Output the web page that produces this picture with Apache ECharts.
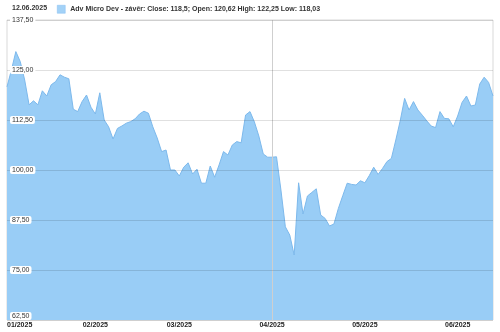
<!DOCTYPE html>
<html><head><meta charset="utf-8">
<script src="https://cdn.jsdelivr.net/npm/echarts@6/dist/echarts.min.js"></script>
<style>html,body{margin:0;padding:0;background:#fff}#c{width:500px;height:332px}</style>
</head><body><div id="c"></div>
<script>
// Trading days (day of month) per month, 2025
const janDays = [2,3,6,7,8,10,13,14,15,16,17,21,22,23,24,27,28,29,30,31];
const febDays = [3,4,5,6,7,10,11,12,13,14,18,19,20,21,24,25,26,27,28];
const marDays = [3,4,5,6,7,10,11,12,13,14,17,18,19,20,21,24,25,26,27,28,31];
const aprDays = [1,2,3,4,7,8,9,10,11,14,15,16,17,21,22,23,24,25,28,29,30];
const mayDays = [1,2,5,6,7,8,9,12,13,14,15,16,19,20,21,22,23,27,28,29,30];
const junDays = [2,3,4,5,6,9,10,11,12];

// Close values per month
const janClose = [120.8,125.0,129.6,127.1,122.5,116.3,117.3,116.3,119.8,118.5,121.3,122.1,123.8,123.2,122.8,115.2,114.6,117.1,118.75,115.7];
const febClose = [114.0,119.3,112.5,110.8,107.75,110.4,111.0,111.7,112.1,112.8,114.0,114.7,114.2,110.8,108.0,104.6,105.0,100.0,100.0];
const marClose = [98.5,100.7,101.8,99.0,100.2,96.7,96.7,101.0,98.2,101.25,104.6,103.75,106.25,107.1,106.8,113.75,114.6,112.0,108.5,104.0,103.2];
const aprClose = [103.2,103.3,95.0,85.8,83.75,78.75,96.8,89.0,93.5,94.4,95.3,88.75,87.9,86.0,86.5,90.4,93.6,96.7,96.4,96.25,97.3];
const mayClose = [96.8,98.6,100.7,98.9,100.4,102.1,102.9,107.5,112.3,117.9,115.0,117.1,115.0,113.7,112.3,111.0,110.6,114.6,112.9,112.8,110.8];
const junClose = [113.5,116.9,118.5,116.0,116.25,121.5,123.2,121.9,118.5];

const yTicks = {min: 62.5, max: 137.5, step: 12.5};
const titleDate = '12.06.2025';
const seriesName = 'Adv Micro Dev - závěr';
const lastQuote = 'Close: 118,5; Open: 120,62 High: 122,25 Low: 118,03';
const markDate = '01.04.2025';

const months = [[1,janDays],[2,febDays],[3,marDays],[4,aprDays],[5,mayDays],[6,junDays]];
const pad = n => (n < 10 ? '0' : '') + n;
const dates = [];
months.forEach(([m, ds]) => ds.forEach(d => dates.push(pad(d) + '.' + pad(m) + '.2025')));
const closes = [].concat(janClose, febClose, marClose, aprClose, mayClose, junClose);

const chart = echarts.init(document.getElementById('c'), null, {renderer: 'canvas'});
chart.setOption({
  animation: false,
  backgroundColor: '#fff',
  title: {
    text: titleDate, left: 7, top: 0,
    textStyle: {fontSize: 7, fontWeight: 'bold', color: '#333', fontFamily: 'Liberation Sans, Arial, sans-serif'}
  },
  legend: {
    left: 52, top: 0, itemWidth: 8, itemHeight: 8, itemGap: 4,
    icon: 'rect',
    itemStyle: {color: '#a3d2f7', borderColor: '#86bff0', borderWidth: 0.5},
    formatter: name => name + ': ' + lastQuote,
    textStyle: {fontSize: 7, fontWeight: 'bold', color: '#333', fontFamily: 'Liberation Sans, Arial, sans-serif'},
    data: [seriesName]
  },
  grid: {left: 7, right: 7, top: 20, bottom: 12, show: true, borderColor: '#d9d9d9', borderWidth: 1, backgroundColor: 'transparent'},
  xAxis: {
    type: 'category', data: dates, boundaryGap: false,
    axisLine: {show: false}, axisTick: {show: false},
    axisLabel: {
      interval: (i, v) => i === 0 || v.slice(3, 5) !== dates[i - 1].slice(3, 5),
      formatter: v => v.slice(3).replace('.', '/'),
      alignMinLabel: 'left',
      margin: 2,
      fontSize: 7, fontWeight: 'bold', color: '#222', fontFamily: 'Liberation Sans, Arial, sans-serif'
    },
    splitLine: {show: false}
  },
  yAxis: {
    type: 'value', min: yTicks.min, max: yTicks.max, interval: yTicks.step, z: 10,
    axisLine: {show: false}, axisTick: {show: false},
    splitLine: {lineStyle: {color: 'rgba(0,0,0,0.12)', width: 1}},
    axisLabel: {
      inside: true, margin: 3,
      formatter: v => v.toFixed(2).replace('.', ','),
      verticalAlignMinLabel: 'bottom',
      fontSize: 7, color: '#333', fontFamily: 'Liberation Sans, Arial, sans-serif',
      backgroundColor: '#fff', padding: [1, 2, 0, 2], borderRadius: 2
    }
  },
  series: [{
    name: seriesName, type: 'line', data: closes,
    showSymbol: false, symbol: 'none',
    lineStyle: {color: '#7db9ec', width: 1},
    itemStyle: {color: '#a3d2f7'},
    areaStyle: {color: '#99cdf6', opacity: 1},
    markLine: {
      silent: true, symbol: 'none', label: {show: false},
      lineStyle: {color: '#cfcfcf', width: 1, type: 'solid'},
      data: [{xAxis: markDate}]
    }
  }]
});
</script></body></html>
